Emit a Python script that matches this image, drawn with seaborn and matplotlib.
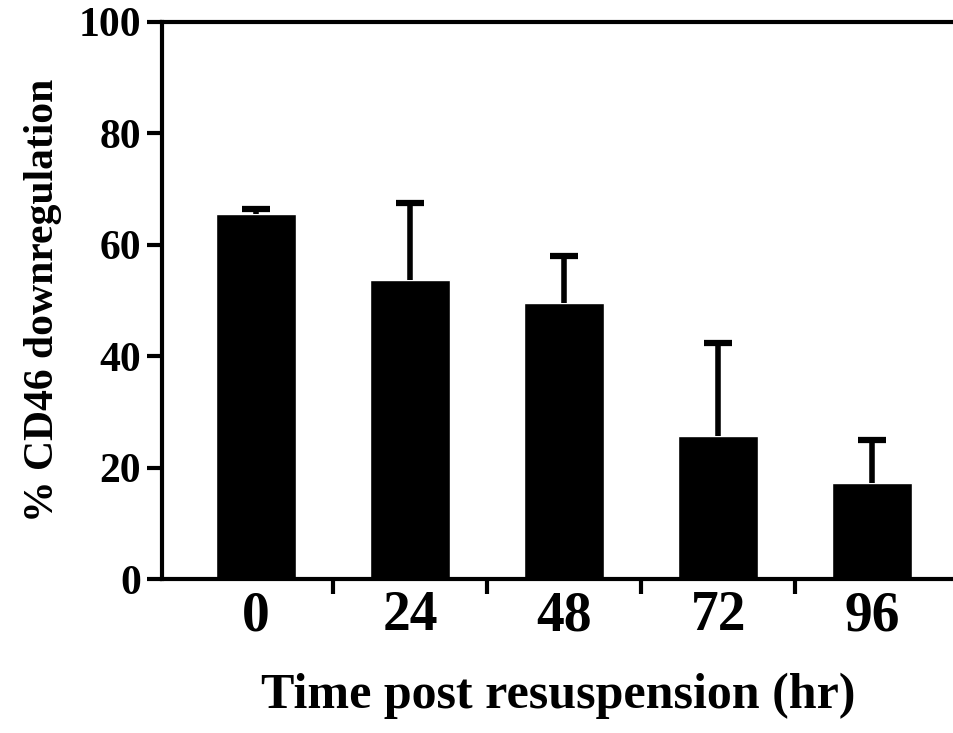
import numpy as np
import pandas as pd
import matplotlib
matplotlib.use("Agg")
import matplotlib.pyplot as plt
import seaborn as sns

hours = ["0", "24", "48", "72", "96"]
mean_pct = [65.5, 53.7, 49.6, 25.7, 17.2]
err_up = [0.9, 13.8, 8.4, 16.7, 7.8]

df = pd.DataFrame({"hours": hours, "pct": mean_pct})

sns.set_style("ticks")
plt.rcParams["font.family"] = ["Liberation Serif", "DejaVu Serif"]
plt.rcParams["font.weight"] = "bold"
plt.rcParams["text.color"] = "black"
plt.rcParams["axes.labelcolor"] = "black"
plt.rcParams["xtick.color"] = "black"
plt.rcParams["ytick.color"] = "black"

fig = plt.figure(figsize=(9.54, 7.33), dpi=100)
ax = fig.add_axes([0.170, 0.210, 0.830, 0.760])

sns.barplot(data=df, x="hours", y="pct", color="black", width=0.52,
            errorbar=None, ax=ax, saturation=1)
# upper-only error bars, drop the cap sitting on the bar top
_, caps, _ = ax.errorbar(np.arange(len(hours)), mean_pct,
                         yerr=[np.zeros(len(hours)), err_up], fmt="none",
                         ecolor="black", elinewidth=4, capsize=10, capthick=4.5)
caps[0].remove()

ax.set_ylim(0, 100)
ax.set_xlim(-0.61, 4.53)
ax.set_yticks(range(0, 101, 20))
ax.set_xticks(np.arange(0.5, 4.0, 1.0), minor=True)
ax.tick_params(axis="x", which="major", length=0, pad=8, labelsize=40)
ax.tick_params(axis="x", which="minor", length=11, width=3, direction="out")
ax.tick_params(axis="y", length=11, width=3, direction="out", labelsize=30, pad=4)
for lab in ax.get_xticklabels() + ax.get_yticklabels():
    lab.set_fontweight("bold")

for side in ["left", "top", "bottom"]:
    ax.spines[side].set_linewidth(3)
    ax.spines[side].set_color("black")
ax.spines["right"].set_visible(False)

ax.set_xlabel("Time post resuspension (hr)", fontsize=36, fontweight="bold", labelpad=22)
ax.set_ylabel("% CD46 downregulation", fontsize=30, fontweight="bold", labelpad=12)

fig.savefig("out.png", dpi=100)
plt.close(fig)
